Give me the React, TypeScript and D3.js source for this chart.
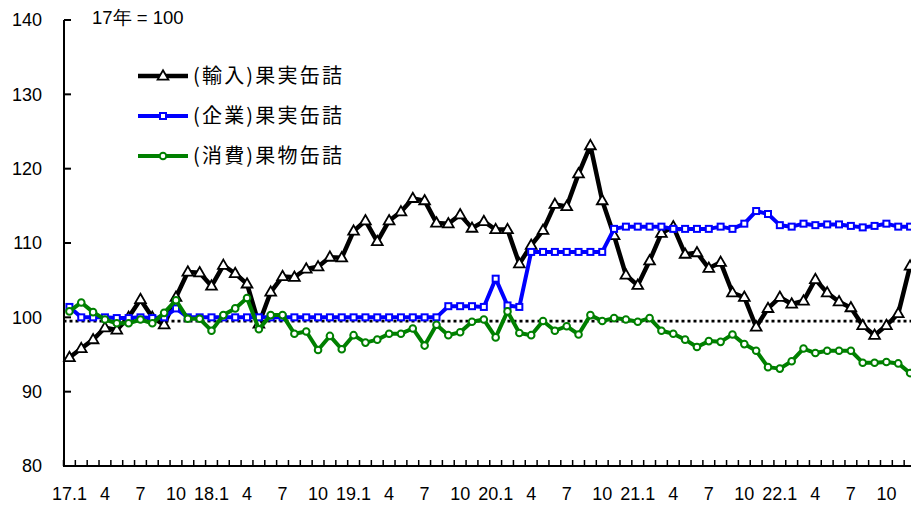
import React from "react";
import * as d3 from "d3";

const years = ["17", "18", "19", "20", "21", "22"];
const categories: string[] = [];
years.forEach((y) => {
  for (let m = 1; m <= 12; m++) categories.push(`${y}.${m}`);
});
const tickLabelFor = (c: string) => {
  const [y, m] = c.split(".");
  if (m === "1") return `${y}.1`;
  if (m === "4" || m === "7" || m === "10") return m;
  return "";
};

const importFruit = [
  94.6, 95.8, 97.0, 98.6, 98.3, 100.0, 102.4, 100.0, 99.0, 102.7, 106.1, 106.0,
  104.2, 107.0, 105.9, 104.5, 99.1, 103.4, 105.5, 105.4, 106.5, 106.8, 108.1, 108.0,
  111.6, 113.0, 110.2, 113.0, 114.2, 116.0, 115.7, 112.7, 112.6, 113.8, 112.0, 112.9,
  111.8, 111.8, 107.2, 109.7, 111.7, 115.2, 114.9, 119.3, 123.1, 115.7, 111.0, 105.7,
  104.3, 107.6, 111.3, 112.2, 108.5, 108.7, 106.6, 107.4, 103.3, 102.7, 98.7, 101.2,
  102.7, 101.8, 102.2, 105.1, 103.3, 102.1, 101.3, 98.9, 97.6, 98.9, 100.5, 106.9,
];
const corporateFruit = [
  101.4, 100.0, 100.0, 100.0, 99.9, 99.9, 100.0, 99.9, 100.0, 101.2, 100.0, 100.0,
  100.0, 100.0, 100.0, 100.0, 100.0, 100.0, 100.0, 100.0, 100.0, 100.0, 100.0, 100.0,
  100.0, 100.0, 100.0, 100.0, 100.0, 100.0, 100.0, 100.0, 101.5, 101.5, 101.5, 101.4,
  105.2, 101.6, 101.4, 108.8, 108.8, 108.8, 108.8, 108.8, 108.8, 108.8, 111.9, 112.2,
  112.2, 112.2, 112.2, 111.9, 111.9, 111.9, 111.9, 112.2, 111.9, 112.6, 114.3, 113.9,
  112.4, 112.2, 112.6, 112.4, 112.5, 112.5, 112.3, 112.1, 112.3, 112.6, 112.2, 112.2,
];
const consumerFruit = [
  100.8, 102.0, 100.7, 99.7, 99.2, 99.2, 99.7, 99.2, 100.6, 102.3, 99.8, 99.8,
  98.2, 100.3, 101.2, 102.6, 98.4, 100.3, 100.3, 97.8, 98.1, 95.6, 97.5, 95.7,
  97.6, 96.6, 97.0, 97.8, 97.8, 98.5, 96.2, 99.0, 97.6, 98.0, 99.4, 99.7,
  97.3, 100.8, 97.9, 97.6, 99.5, 98.2, 98.8, 97.7, 100.3, 99.5, 99.9, 99.7,
  99.4, 99.9, 98.2, 97.8, 97.0, 96.0, 96.8, 96.7, 97.7, 96.4, 95.5, 93.3,
  93.1, 94.1, 95.8, 95.2, 95.5, 95.5, 95.5, 93.9, 93.9, 94.0, 93.8, 92.5,
];
const referenceLevel = 99.5;
const yTicks = [80, 90, 100, 110, 120, 130, 140];
const seriesNames = ["(輸入)果実缶詰", "(企業)果実缶詰", "(消費)果物缶詰"];
const baseNote = "17年 = 100";

const W = 911;
const H = 506;

export default function App() {
  const x = d3
    .scaleBand<string>()
    .domain(categories)
    .range([63.5, 916])
    .paddingInner(0)
    .paddingOuter(0);
  const y = d3.scaleLinear().domain([80, 140]).range([466, 20]);
  const cx = (c: string) => (x(c) as number) + x.bandwidth() / 2;

  const line = d3
    .line<number>()
    .x((_, i) => cx(categories[i]))
    .y((d) => y(d));

  const series = [
    { name: seriesNames[0], values: importFruit, color: "#000000", marker: "tri", lw: 4.5 },
    { name: seriesNames[1], values: corporateFruit, color: "#0000ff", marker: "sq", lw: 4 },
    { name: seriesNames[2], values: consumerFruit, color: "#008000", marker: "circ", lw: 4 },
  ];

  const triPath = d3.symbol(d3.symbolTriangle, 50)() as string;

  const marker = (kind: string, color: string, px: number, py: number, key: any) => {
    if (kind === "tri")
      return (
        <path
          key={key}
          d={triPath}
          transform={`translate(${px},${py + 0.5})`}
          fill="#fff"
          stroke={color}
          strokeWidth={1.8}
        />
      );
    if (kind === "sq")
      return (
        <rect
          key={key}
          x={px - 3}
          y={py - 3}
          width={6}
          height={6}
          fill="#fff"
          stroke={color}
          strokeWidth={2}
        />
      );
    return <circle key={key} cx={px} cy={py} r={3.3} fill="#fff" stroke={color} strokeWidth={2} />;
  };

  const font = "Arial, 'Liberation Sans', sans-serif";
  const cjkFont = "'Noto Sans CJK JP', sans-serif";

  return (
    <svg
      width={W}
      height={H}
      style={{ position: "absolute", left: 0, top: 0, background: "#fff" }}
    >
      <rect width={W} height={H} fill="#fff" />
      {/* reference dotted line */}
      <line
        x1={63.5}
        x2={916}
        y1={y(referenceLevel)}
        y2={y(referenceLevel)}
        stroke="#000"
        strokeWidth={2.8}
        strokeDasharray="3,3"
      />
      {/* axes */}
      <line x1={64} x2={64} y1={y(140)} y2={y(80)} stroke="#000" strokeWidth={2} />
      {yTicks.map((t) => (
        <g key={t}>
          <line x1={64} x2={71} y1={y(t)} y2={y(t)} stroke="#000" strokeWidth={2} />
          <text
            x={42}
            y={y(t)}
            dy="0.35em"
            textAnchor="end"
            fontFamily={font}
            fontSize={18}
            fill="#000"
          >
            {t}
          </text>
        </g>
      ))}
      <line x1={63} x2={W} y1={466} y2={466} stroke="#000" strokeWidth={2} />
      {categories.map((c) => (
        <line
          key={"t" + c}
          x1={x(c) as number}
          x2={x(c) as number}
          y1={466}
          y2={460}
          stroke="#000"
          strokeWidth={1.5}
        />
      ))}
      {categories.map((c) => {
        const lab = tickLabelFor(c);
        if (!lab) return null;
        return (
          <text
            key={"l" + c}
            x={cx(c)}
            y={500}
            textAnchor="middle"
            fontFamily={font}
            fontSize={18}
            fill="#000"
          >
            {lab}
          </text>
        );
      })}
      {/* series */}
      {series.map((s) => (
        <g key={s.name}>
          <path
            d={line(s.values) as string}
            fill="none"
            stroke={s.color}
            strokeWidth={s.lw}
            strokeLinejoin="round"
          />
          {s.values.map((v, i) => marker(s.marker, s.color, cx(categories[i]), y(v), i))}
        </g>
      ))}
      {/* note */}
      <text x={92} y={24} fontFamily={font} fontSize={18.5} fill="#000">
        {baseNote}
      </text>
      {/* legend */}
      {series.map((s, i) => {
        const ly = 76 + i * 40;
        return (
          <g key={"lg" + i}>
            <line x1={138} x2={188} y1={ly} y2={ly} stroke={s.color} strokeWidth={s.lw} />
            {marker(s.marker, s.color, 163, ly, "m")}
            <text
              x={193}
              y={ly + 7}
              fontFamily={cjkFont}
              fontSize={20}
              letterSpacing={2.2}
              fill="#000"
            >
              {s.name}
            </text>
          </g>
        );
      })}
    </svg>
  );
}
